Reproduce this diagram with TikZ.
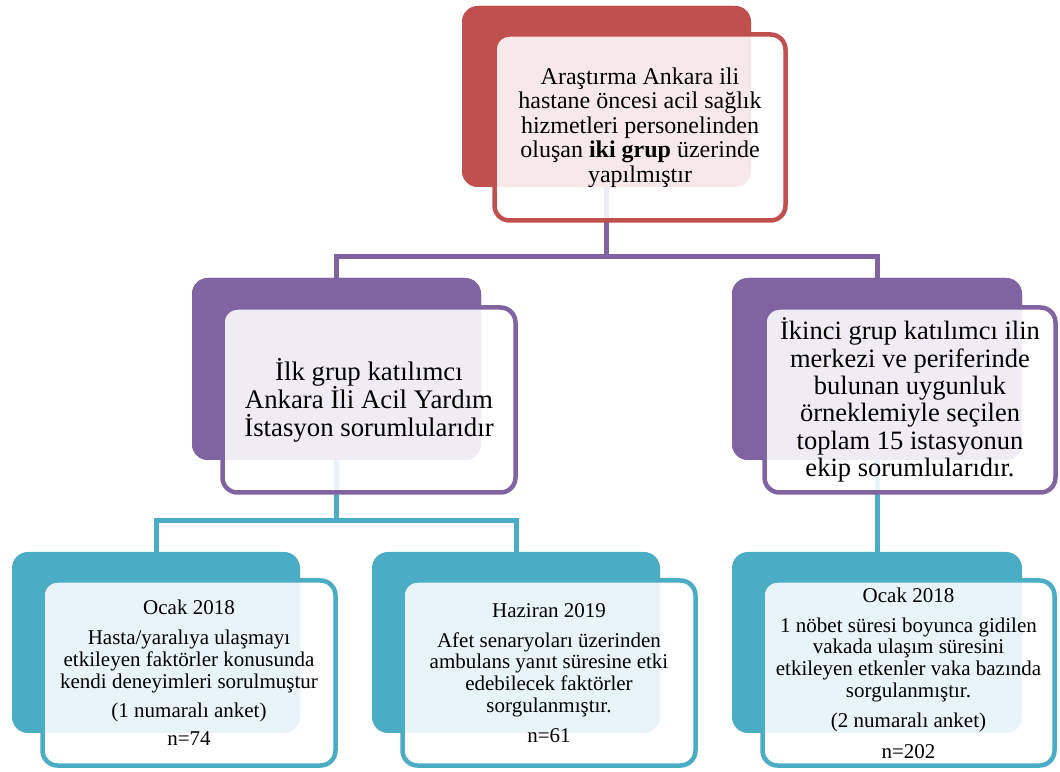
\documentclass[tikz,border=0pt]{standalone}
\usepackage{fontspec}
\setmainfont{Liberation Serif}
\definecolor{cred}{HTML}{C0504D}
\definecolor{cpur}{HTML}{8064A2}
\definecolor{cteal}{HTML}{4BACC6}
\begin{document}
\begin{tikzpicture}[x=1pt,y=1pt,
  backbox/.style={rectangle,rounded corners=16pt,fill=#1,draw=none,inner sep=0pt},
  frontbox/.style={rectangle,rounded corners=15pt,draw=#1,line width=4.5pt,fill=white,fill opacity=0.88,text opacity=1,inner sep=0pt,align=center},
  conn/.style={draw=#1,line width=5pt},
  toptext/.style={font=\fontsize{24}{24.5}\selectfont},
  midtextA/.style={font=\fontsize{26.8}{28}\selectfont},
  midtextB/.style={font=\fontsize{26.5}{27.4}\selectfont},
  bottext/.style={font=\fontsize{21}{21.8}\selectfont}]
\useasboundingbox (0,0) rectangle (1060,771);
% back boxes
\node[backbox=cred,minimum width=289pt,minimum height=181pt] (topback) at (606.5,674.5) {};
\node[backbox=cpur,minimum width=289pt,minimum height=182pt] (mlback) at (336.5,402) {};
\node[backbox=cpur,minimum width=290pt,minimum height=182pt] (mrback) at (877,402) {};
\node[backbox=cteal,minimum width=288pt,minimum height=181pt] (blback) at (156,128.5) {};
\node[backbox=cteal,minimum width=288pt,minimum height=181pt] (bmback) at (516,128.5) {};
\node[backbox=cteal,minimum width=290pt,minimum height=181pt] (brback) at (877,128.5) {};
% connectors
\path[conn=cpur] (topback.south) -- ++(0,-69) -| (mlback.north);
\path[conn=cpur] (topback.south) -- ++(0,-69) -| (mrback.north);
\path[conn=cteal] (mlback.south) -- ++(0,-60) -| (blback.north);
\path[conn=cteal] (mlback.south) -- ++(0,-60) -| (bmback.north);
\path[conn=cteal] (mrback.south) -- (brback.north);
% redraw back boxes over connector ends
\node[backbox=cred,minimum width=289pt,minimum height=181pt] at (topback) {};
\node[backbox=cpur,minimum width=289pt,minimum height=182pt] at (mlback) {};
\node[backbox=cpur,minimum width=290pt,minimum height=182pt] at (mrback) {};
% front boxes
\node[frontbox=cred,toptext,minimum width=291pt,minimum height=186pt] (topfront) at (640,643.5)
 {Araştırma Ankara ili\\hastane öncesi acil sağlık\\hizmetleri personelinden\\oluşan \textbf{iki grup} üzerinde\\yapılmıştır};
\node[frontbox=cpur,midtextA,minimum width=293pt,minimum height=185pt] (mlfront) at (369,371)
 {İlk grup katılımcı\\Ankara İli Acil Yardım\\İstasyon sorumlularıdır};
\node[frontbox=cpur,midtextB,minimum width=291pt,minimum height=185pt] (mrfront) at (910,371)
 {İkinci grup katılımcı ilin\\merkezi ve periferinde\\bulunan uygunluk\\örneklemiyle seçilen\\toplam 15 istasyonun\\ekip sorumlularıdır.};
\node[frontbox=cteal,bottext,minimum width=293pt,minimum height=185pt] (blfront) at (189,98)
 {Ocak 2018\\[8pt]Hasta/yaralıya ulaşmayı\\etkileyen faktörler konusunda\\kendi deneyimleri sorulmuştur\\[8pt](1 numaralı anket)\\[6pt]n=74};
\node[frontbox=cteal,bottext,minimum width=293pt,minimum height=185pt] (bmfront) at (549,98)
 {Haziran 2019\\[8pt]Afet senaryoları üzerinden\\ambulans yanıt süresine etki\\edebilecek faktörler\\sorgulanmıştır.\\[8pt]n=61};
\node[frontbox=cteal,bottext,minimum width=292pt,minimum height=185pt] (brfront) at (908.5,98)
 {Ocak 2018\\[8pt]1 nöbet süresi boyunca gidilen\\vakada ulaşım süresini\\etkileyen etkenler vaka bazında\\sorgulanmıştır.\\[8pt](2 numaralı anket)\\[9pt]n=202};
\end{tikzpicture}
\end{document}
